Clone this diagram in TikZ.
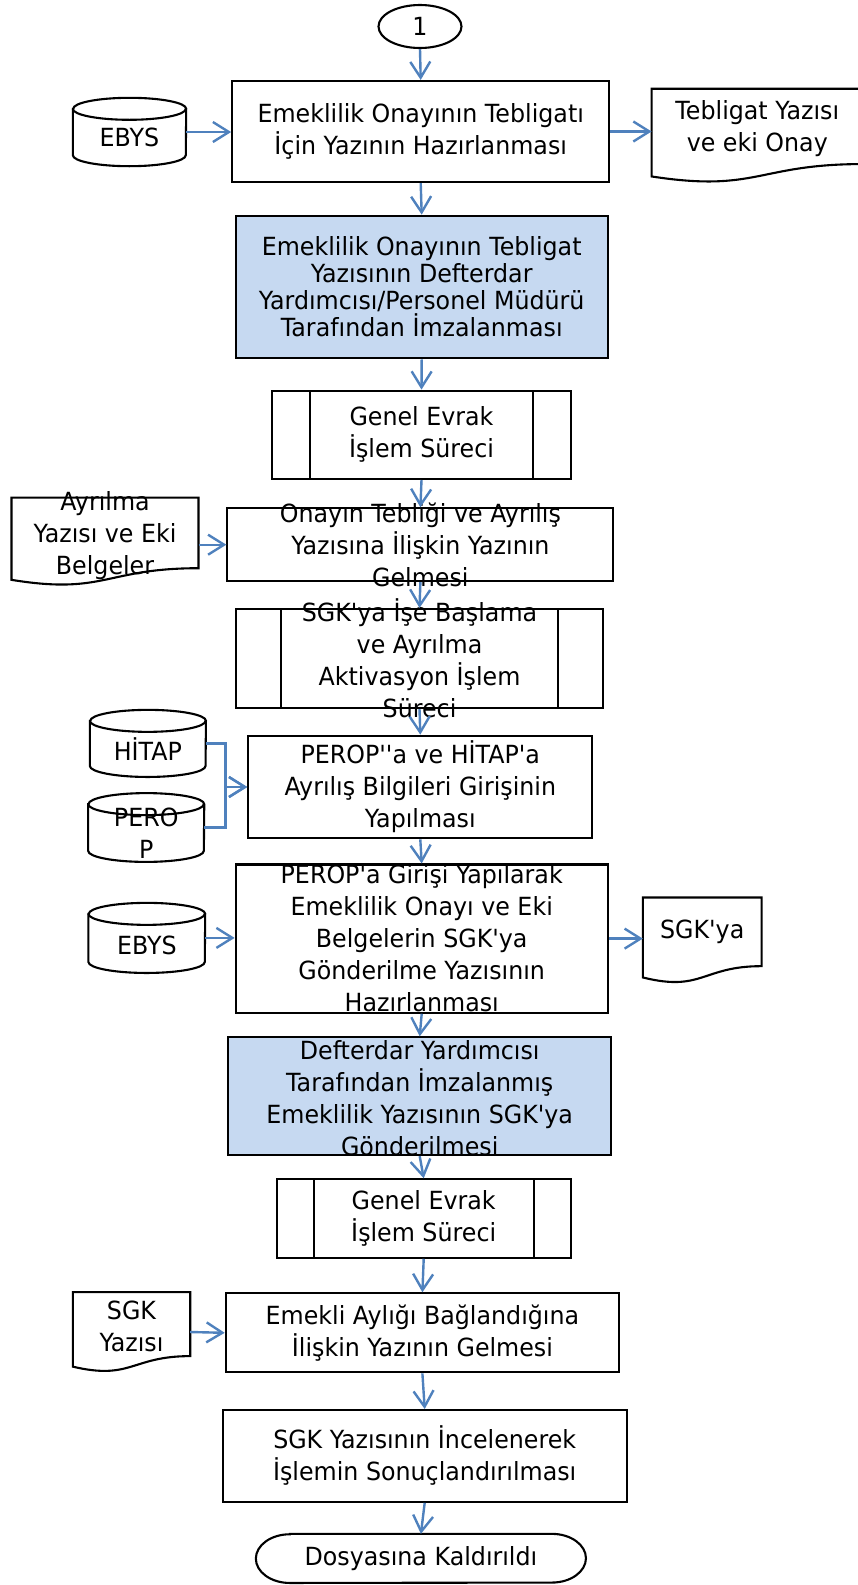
\documentclass[tikz,border=0pt]{standalone}
\usepackage{fontspec}
\setmainfont{DejaVu Sans}[FakeStretch=0.95, Ligatures=TeXOff]
\usetikzlibrary{arrows.meta,calc,shapes.geometric}
\definecolor{flowblue}{HTML}{4F81BD}
\definecolor{boxblue}{HTML}{C6D9F1}
\def\flowfont{\fontsize{25}{32}\selectfont}
\def\docpath(#1){\draw[outline] (#1.north west) -- (#1.north east) -- ($(#1.north east)!0.802!(#1.south east)$) .. controls ($(#1.north)!0.802!(#1.south)$) and ($(#1.north)!1.1075!(#1.south)$) .. ($(#1.north west)!0.934!(#1.south west)$) -- cycle;}
\def\drumpath(#1)#2{\draw[outline] ($(#1.north west)+(0,11)$) -- ($(#1.south west)+(0,-11)$) arc[start angle=180, end angle=0, x radius=#2, y radius=11] -- ($(#1.north east)+(0,11)$) arc[start angle=0, end angle=-180, x radius=#2, y radius=11] -- cycle;
  \draw[outline] ($(#1.north west)+(0,11)$) arc[start angle=180, end angle=0, x radius=#2, y radius=11];}
\tikzset{
  outline/.style={draw=black, line width=2.1pt},
  flowbox/.style={outline, fill=white, inner sep=0pt},
  bluebox/.style={flowbox, fill=boxblue},
  subproc/.style={flowbox, path picture={
      \draw[line width=2.1pt] ([xshift=#1]path picture bounding box.north west) -- ([xshift=#1]path picture bounding box.south west);
      \draw[line width=2.1pt] ([xshift=-#1]path picture bounding box.north east) -- ([xshift=-#1]path picture bounding box.south east);}},
  docnode/.style={inner sep=0pt},
  lbl/.style={align=center, font=\flowfont, inner sep=0pt},
  flow/.style={draw=flowblue, line width=2.4pt, -{Straight Barb[length=16pt, width=20pt]}},
}

\begin{document}
\begin{tikzpicture}[x=1pt, y=-1pt]
			%%%%% START %%%%%
			\useasboundingbox (0,0) rectangle (857,1585);
			
			\node[ellipse, outline, inner sep=0pt, minimum width=83, minimum height=43, label={[lbl]center:1}] (bas) at (420, 26.5) {};
			
			\node[flowbox, minimum width=377, minimum height=101, label={[lbl]center:{Emeklilik Onayının Tebligatı\\İçin Yazının Hazırlanması}}] (hazir) at (420.7, 131.5) {};
			\node[docnode, minimum width=113, minimum height=68, label={[lbl, yshift=-5pt]center:EBYS}] (ebys1) at (129.5, 132) {};
			\drumpath(ebys1){56.5}
			\node[docnode, minimum width=211, minimum height=93.5, label={[lbl, yshift=7pt]center:{Tebligat Yazısı\\ve eki Onay}}] (teblig) at (757.3, 135.7) {};
			\docpath(teblig)
			
			\node[bluebox, minimum width=372, minimum height=142.6, label={[lbl, font=\fontsize{25}{27}\selectfont]center:{Emeklilik Onayının Tebligat\\Yazısının Defterdar\\Yardımcısı/Personel Müdürü\\Tarafından İmzalanması}}] (imza) at (421.7, 287) {};
			
			\node[subproc=37.7pt, minimum width=298.4, minimum height=88.3, label={[lbl]center:{Genel Evrak\\İşlem Süreci}}] (genel1) at (421.5, 434.8) {};
			
			\node[flowbox, minimum width=386, minimum height=72.7, label={[lbl]center:{Onayın Tebliği ve Ayrılış\\Yazısına İlişkin Yazının\\Gelmesi}}] (tebligi) at (420.4, 544.7) {};
			\node[docnode, minimum width=186.6, minimum height=87.7] (ayrilma) at (105, 541.6) {};
			\docpath(ayrilma)
			\node[lbl, yshift=6pt] (ayrilmatxt) at (ayrilma) {Ayrılma\\Yazısı ve Eki\\Belgeler};
			
			\node[subproc=45.3pt, minimum width=367.6, minimum height=99] (aktiv) at (419.5, 658.5) {};
			
			\node[flowbox, minimum width=344, minimum height=102.6, label={[lbl]center:{PEROP''a ve HİTAP'a\\Ayrılış Bilgileri Girişinin\\Yapılması}}] (giris) at (420.3, 787) {};
			\node[docnode, minimum width=115.7, minimum height=66.7, label={[lbl, yshift=-6pt]center:HİTAP}] (hitap) at (147.9, 743.4) {};
			\drumpath(hitap){57.85}
			\node[docnode, minimum width=115.7, minimum height=68.4, label={[lbl, yshift=-6pt]center:{PERO\\P}}] (perop) at (146.2, 827.5) {};
			\drumpath(perop){57.85}
			\coordinate (jn) at ($(giris.west)+(-21.6,0)$);
			
			\node[flowbox, minimum width=372, minimum height=148.2] (hazirla) at (421.7, 938.6) {};
			\node[docnode, minimum width=116.4, minimum height=69.7, label={[lbl, yshift=-7pt]center:EBYS}] (ebys2) at (146.8, 937.9) {};
			\drumpath(ebys2){58.2}
			\node[docnode, minimum width=118.3, minimum height=85.2, label={[lbl, yshift=8.6pt]center:SGK'ya}] (sgkya) at (702.2, 940.3) {};
			\docpath(sgkya)
			
			\node[bluebox, minimum width=382.6, minimum height=117.7] (defter) at (419.7, 1096.2) {};
			
			\node[subproc=37pt, minimum width=294, minimum height=78.4, label={[lbl]center:{Genel Evrak\\İşlem Süreci}}] (genel2) at (423.7, 1218.5) {};
			
			\node[flowbox, minimum width=393.3, minimum height=79, label={[lbl]center:{Emekli Aylığı Bağlandığına\\İlişkin Yazının Gelmesi}}] (aylik) at (422.4, 1332.8) {};
			\node[docnode, minimum width=117, minimum height=79.4, label={[lbl, yshift=6pt]center:{SGK\\Yazısı}}] (sgkyaz) at (131.5, 1332) {};
			\docpath(sgkyaz)
			
			\node[flowbox, minimum width=404, minimum height=91.7, label={[lbl]center:{SGK Yazısının İncelenerek\\İşlemin Sonuçlandırılması}}] (sonuc) at (424.7, 1455.9) {};
			
			\node[docnode, minimum width=329.7, minimum height=48.7, label={[lbl]center:Dosyasına Kaldırıldı}] (son) at (420.9, 1558.4) {};
			\draw[outline] ($(son.north west)+(34,0)$) -- ($(son.north east)+(-34,0)$) arc[start angle=-90, end angle=90, x radius=34, y radius=24.35] -- ($(son.south west)+(34,0)$) arc[start angle=90, end angle=270, x radius=34, y radius=24.35] -- cycle;
			
			% texts running over the box borders
			\node[lbl] (aktivtxt) at (aktiv) {SGK'ya İşe Başlama\\ve Ayrılma\\Aktivasyon İşlem\\Süreci};
			\node[lbl] (hazirlatxt) at (hazirla) {PEROP'a Girişi Yapılarak\\Emeklilik Onayı ve Eki\\Belgelerin SGK'ya\\Gönderilme Yazısının\\Hazırlanması};
			\node[lbl, yshift=-2pt] (deftertxt) at (defter) {Defterdar Yardımcısı\\Tarafından İmzalanmış\\Emeklilik Yazısının SGK'ya\\Gönderilmesi};
			
			% arrows
			\draw[flow] (bas.south) -- (hazir.north);
			\draw[flow] (ebys1.east) -- (ebys1.east -| hazir.west);
			\draw[flow] (hazir.east) -- (hazir.east -| teblig.west);
			\draw[flow] (hazir.south) -- (imza.north);
			\draw[flow] (imza.south) -- (genel1.north);
			\draw[flow] (genel1.south) -- (tebligi.north);
			\draw[flow] (tebligi.west -| ayrilma.east) -- (tebligi.west);
			\draw[flow] (tebligi.south) -- (aktiv.north);
			\draw[flow] (aktiv.south) -- (giris.north);
			\draw[flow] (hitap.east) -| (jn) -- (giris.west);
			\draw[flow] (perop.east) -| (jn) -- (giris.west);
			\draw[flow] (giris.south) -- (hazirla.north);
			\draw[flow] (ebys2.east) -- (ebys2.east -| hazirla.west);
			\draw[flow] (hazirla.east) -- (hazirla.east -| sgkya.west);
			\draw[flow] (hazirla.south) -- (defter.north);
			\draw[flow] (defter.south) -- (genel2.north);
			\draw[flow] (genel2.south) -- (aylik.north);
			\draw[flow] (sgkyaz.east) -- (aylik.west);
			\draw[flow] (aylik.south) -- (sonuc.north);
			\draw[flow] (sonuc.south) -- (son.north);
			
			%%%%% END %%%%%
\end{tikzpicture}
\end{document}
